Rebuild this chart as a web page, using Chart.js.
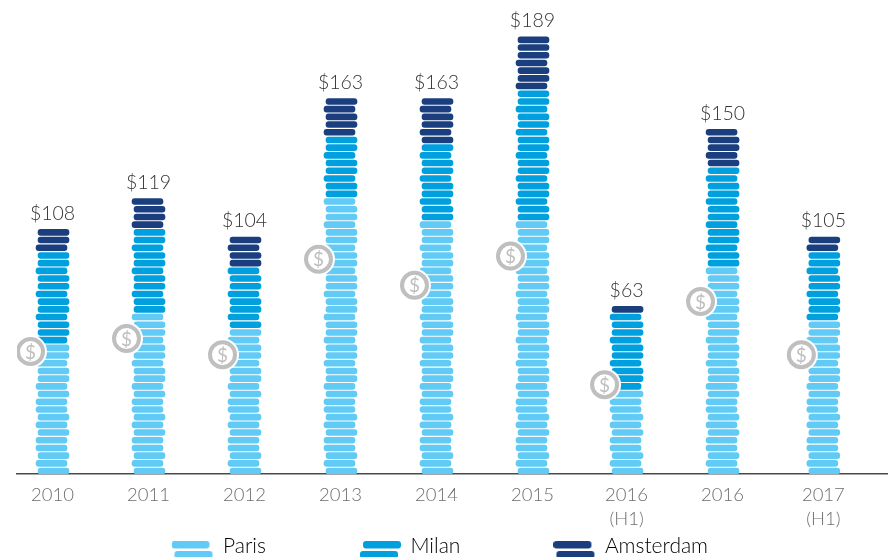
<!DOCTYPE html>
<html>
<head>
<meta charset="utf-8">
<title>Coins by city</title>
<style>
html, body { margin: 0; padding: 0; background: #fff; overflow: hidden; }
canvas { display: block; }
</style>
<script src="https://cdn.jsdelivr.net/npm/chart.js@4/dist/chart.umd.min.js"></script>
</head>
<body>
<canvas id="coinChart" width="889" height="557"></canvas>
<script>
/* Chart data: coins are counted row by row off the picture */
const tickLabels = ['2010', '2011', '2012', '2013', '2014', '2015', ['2016', '(H1)'], '2016', ['2017', '(H1)']];
const totalLabels = ['$108', '$119', '$104', '$163', '$163', '$189', '$63', '$150', '$105'];
const parisCoins = [17, 21, 19, 36, 33, 33, 11, 27, 20];
const milanCoins = [12, 11, 8, 8, 10, 17, 10, 13, 9];
const amsterdamCoins = [3, 4, 4, 5, 6, 7, 1, 5, 2];
const badgeRows = [15.9, 17.6, 15.5, 27.9, 24.5, 28.3, 11.6, 22.4, 15.5];

/* Style and layout constants */
const FONT = 'Lato, "Noto Sans", sans-serif';
const PARIS_COLOR = '#62CBF5';
const MILAN_COLOR = '#00A0DF';
const AMSTERDAM_COLOR = '#1B3F7E';
const BADGE_COLOR = '#BFBFBF';
const COLUMN_STEP = 96;   // px per column, used to turn pixel nudges into x units
const COLUMN_X = [0, 1, 2, 3, 4, 5, 5.98, 6.98, 8.03];
const COIN_HEIGHT = 0.77; // in rows

/* Every row is nudged a little so the pile looks hand stacked */
function rowNudge(row) {
    var left;
    if (row <= 10) {
        left = [2, 4, 0].indexOf(row % 5) !== -1;
    }
    else {
        left = row % 3 === 0 && row !== 57;
    }
    return (left ? -1 : 1) / COLUMN_STEP;
}

/* Turn coin counts into floating one-row bars, starting on top of lower series */
function buildCoins(counts, below) {
    var coins = [];
    for (var i = 0; i < counts.length; i++) {
        var start = 0;
        for (var b = 0; b < below.length; b++) {
            start += below[b][i];
        }
        for (var r = start + 1; r <= start + counts[i]; r++) {
            coins.push({ x: COLUMN_X[i] + rowNudge(r), y: [r - 1, r - 1 + COIN_HEIGHT] });
        }
    }
    return coins;
}

/* Two staggered coins as a legend symbol */
function makeSwatch(color, topShift, bottomShift) {
    var c = document.createElement('canvas');
    c.width = 42;
    c.height = 26;
    var ctx = c.getContext('2d');
    ctx.fillStyle = color;
    ctx.beginPath();
    ctx.roundRect(topShift, 8, 38, 7.5, 3);
    ctx.roundRect(bottomShift, 18, 38, 7.5, 3);
    ctx.fill();
    return c;
}

const swatches = [
    { text: 'Paris', color: PARIS_COLOR, style: makeSwatch(PARIS_COLOR, 0, 3) },
    { text: 'Milan', color: MILAN_COLOR, style: makeSwatch(MILAN_COLOR, 4, 1) },
    { text: 'Amsterdam', color: AMSTERDAM_COLOR, style: makeSwatch(AMSTERDAM_COLOR, 0, 3) }
];

function coinDataset(label, color, data) {
    return {
        label: label,
        data: data,
        backgroundColor: color,
        borderSkipped: false,
        borderRadius: 3,
        barThickness: 31,
        grouped: false,
        order: 3
    };
}

function badgePoints() {
    return badgeRows.map(function (row, i) {
        return { x: COLUMN_X[i] - 22 / COLUMN_STEP, y: row };
    });
}

/* Totals above the piles, $ signs inside the badges, and the legend position */
const overlayPlugin = {
    id: 'overlay',
    beforeDraw: function (chart) {
        chart.legend.left = 78.5;
        chart.legend.top = 441.5;
    },
    afterDatasetsDraw: function (chart) {
        var ctx = chart.ctx;
        var xScale = chart.scales.x;
        var yScale = chart.scales.y;
        ctx.save();
        ctx.textAlign = 'center';
        for (var i = 0; i < totalLabels.length; i++) {
            var rows = parisCoins[i] + milanCoins[i] + amsterdamCoins[i];
            var x = xScale.getPixelForValue(COLUMN_X[i]);
            ctx.textBaseline = 'alphabetic';
            ctx.fillStyle = '#333333';
            ctx.font = '300 19.5px ' + FONT;
            ctx.fillText(totalLabels[i], x, yScale.getPixelForValue(rows) - 8);

            var badgeX = xScale.getPixelForValue(COLUMN_X[i] - 22 / COLUMN_STEP);
            ctx.textBaseline = 'middle';
            ctx.fillStyle = BADGE_COLOR;
            ctx.font = '400 19px ' + FONT;
            ctx.fillText('$', badgeX, yScale.getPixelForValue(badgeRows[i]) + 1);
        }
        ctx.restore();
    }
};

new Chart(document.getElementById('coinChart').getContext('2d'), {
    type: 'bar',
    plugins: [overlayPlugin],
    data: {
        datasets: [
            coinDataset('Paris', PARIS_COLOR, buildCoins(parisCoins, [])),
            coinDataset('Milan', MILAN_COLOR, buildCoins(milanCoins, [parisCoins])),
            coinDataset('Amsterdam', AMSTERDAM_COLOR, buildCoins(amsterdamCoins, [parisCoins, milanCoins])),
            {
                type: 'scatter',
                label: 'badge halo',
                data: badgePoints(),
                pointRadius: 16.5,
                pointBackgroundColor: '#ffffff',
                pointBorderWidth: 0,
                order: 2
            },
            {
                type: 'scatter',
                label: 'badge',
                data: badgePoints(),
                pointRadius: 12.5,
                pointBackgroundColor: '#ffffff',
                pointBorderColor: BADGE_COLOR,
                pointBorderWidth: 4,
                order: 1
            }
        ]
    },
    options: {
        responsive: false,
        animation: false,
        layout: { autoPadding: false, padding: { left: 17, right: 2, top: 0, bottom: 0 } },
        scales: {
            x: {
                type: 'linear',
                offset: false,
                min: -0.37,
                max: 8.693,
                grid: { display: false, drawTicks: false },
                border: { color: '#4a4a4a', width: 1.5 },
                afterBuildTicks: function (axis) {
                    axis.ticks = COLUMN_X.map(function (v) { return { value: v }; });
                },
                afterFit: function (axis) {
                    axis.height = 61;
                },
                ticks: {
                    autoSkip: false,
                    maxRotation: 0,
                    padding: 9,
                    color: '#6e6e6e',
                    font: { family: FONT, size: 18.5, weight: '300', lineHeight: 1.3 },
                    callback: function (value, index) {
                        return tickLabels[index];
                    }
                }
            },
            y: {
                display: false,
                min: 0,
                max: 474 / 7.7
            }
        },
        plugins: {
            tooltip: { enabled: false },
            legend: {
                position: 'bottom',
                align: 'start',
                maxHeight: 22,
                labels: {
                    usePointStyle: true,
                    pointStyleWidth: 40,
                    padding: 94,
                    color: '#444444',
                    font: { family: FONT, size: 21, weight: '300' },
                    generateLabels: function () {
                        return swatches.map(function (s, i) {
                            return {
                                text: s.text,
                                fillStyle: s.color,
                                strokeStyle: s.color,
                                lineWidth: 0,
                                pointStyle: s.style,
                                datasetIndex: i,
                                hidden: false
                            };
                        });
                    }
                }
            }
        }
    }
});
</script>
</body>
</html>
